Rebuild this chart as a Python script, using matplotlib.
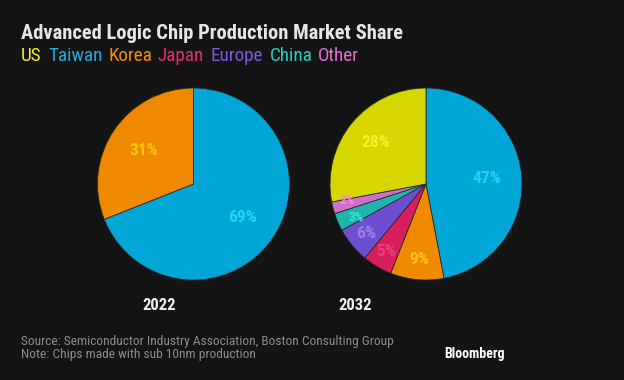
import matplotlib
matplotlib.use("Agg")
import matplotlib.pyplot as plt
from matplotlib import font_manager
import numpy as np

# data
regions = ["US", "Taiwan", "Korea", "Japan", "Europe", "China", "Other"]
legend_colors = ["#f0f020", "#1fa9dc", "#f28c0a", "#e0306a", "#7b5ae0", "#22cfc8", "#e070d8"]

years = ["2022", "2032"]
# shares clockwise from 12 o'clock
share_2022_names = ["Taiwan", "Korea"]
share_2022 = [69, 31]
share_2032_names = ["Taiwan", "Korea", "Japan", "Europe", "China", "Other", "US"]
share_2032 = [47, 9, 5, 6, 3, 2, 28]

# slice fill / label text colours per region
slice_colors = {"US": "#d6d600", "Taiwan": "#00a6d6", "Korea": "#ef8a00", "Japan": "#d81e5c",
                "Europe": "#6e4fcf", "China": "#1db5ae", "Other": "#d06fc8"}
label_colors = {"US": "#f2f22a", "Taiwan": "#22d6f2", "Korea": "#ffc400", "Japan": "#f0407c",
                "Europe": "#9c7ef0", "China": "#3fe0d6", "Other": "#f08ee6"}

source = "Source: Semiconductor Industry Association, Boston Consulting Group"
note = "Note: Chips made with sub 10nm production"

BG = "#141414"
W, H = 624, 380

# pick a condensed font if there is one
avail = {f.name for f in font_manager.fontManager.ttflist}
FONT = "DejaVu Sans"
for cand in ["Liberation Sans Narrow", "Roboto Condensed", "Open Sans Condensed", "Noto Sans", "Liberation Sans"]:
    if cand in avail:
        FONT = cand
        break
plt.rcParams["font.family"] = [FONT, "DejaVu Sans"]

fig = plt.figure(figsize=(W / 100, H / 100), dpi=100, facecolor=BG)


def px(x, y):
    return x / W, 1 - y / H


# title + coloured legend row
fig.text(*px(21, 39), "Advanced Logic Chip Production Market Share", color="#e6e6e6",
         fontsize=14.8, fontweight="bold", va="baseline", ha="left")
legend_x = [21, 48, 108, 157, 210, 270, 318]
for name, col, lx in zip(regions, legend_colors, legend_x):
    fig.text(*px(lx, 61), name, color=col, fontsize=13.8, va="baseline", ha="left")


def draw_pie(cx, cy, r, names, vals, dists, nudges):
    ax = fig.add_axes([(cx - r) / W, (H - cy - r) / H, 2 * r / W, 2 * r / H])
    ax.set_facecolor(BG)
    wedges, _ = ax.pie(vals, colors=[slice_colors[n] for n in names], startangle=90,
                       counterclock=False,
                       wedgeprops=dict(edgecolor="#2a2a2a", linewidth=0.6))
    for w, n, v, d, nd in zip(wedges, names, vals, dists, nudges):
        ang = np.deg2rad((w.theta1 + w.theta2) / 2 + nd)
        fs = 12.5 if v >= 5 else 9.5
        ax.text(d * np.cos(ang), d * np.sin(ang), f"{v}%", color=label_colors[n],
                fontsize=fs, fontweight="bold", ha="center", va="center")
    ax.set_xlim(-1, 1)
    ax.set_ylim(-1, 1)
    ax.axis("off")


draw_pie(193.5, 184, 96, share_2022_names, share_2022, [0.62, 0.62], [0, 0])
draw_pie(426, 184, 96, share_2032_names, share_2032,
         [0.64, 0.79, 0.82, 0.81, 0.81, 0.84, 0.68], [0, 0, 0, 0, 2.5, -2.5, 0])

# year labels
fig.text(*px(159, 310), years[0], color="#eeeeee", fontsize=12, fontweight="bold",
         ha="center", va="baseline")
fig.text(*px(355, 310), years[1], color="#eeeeee", fontsize=12, fontweight="bold",
         ha="center", va="baseline")

# footer
fig.text(*px(21, 345), source, color="#8c8c8c", fontsize=9.6, va="baseline", ha="left")
fig.text(*px(21, 358), note, color="#8c8c8c", fontsize=9.6, va="baseline", ha="left")
fig.text(*px(505, 358), "Bloomberg", color="#ffffff", fontsize=10, fontweight="bold",
         va="baseline", ha="right")

fig.savefig("out.png", dpi=100, facecolor=BG)
